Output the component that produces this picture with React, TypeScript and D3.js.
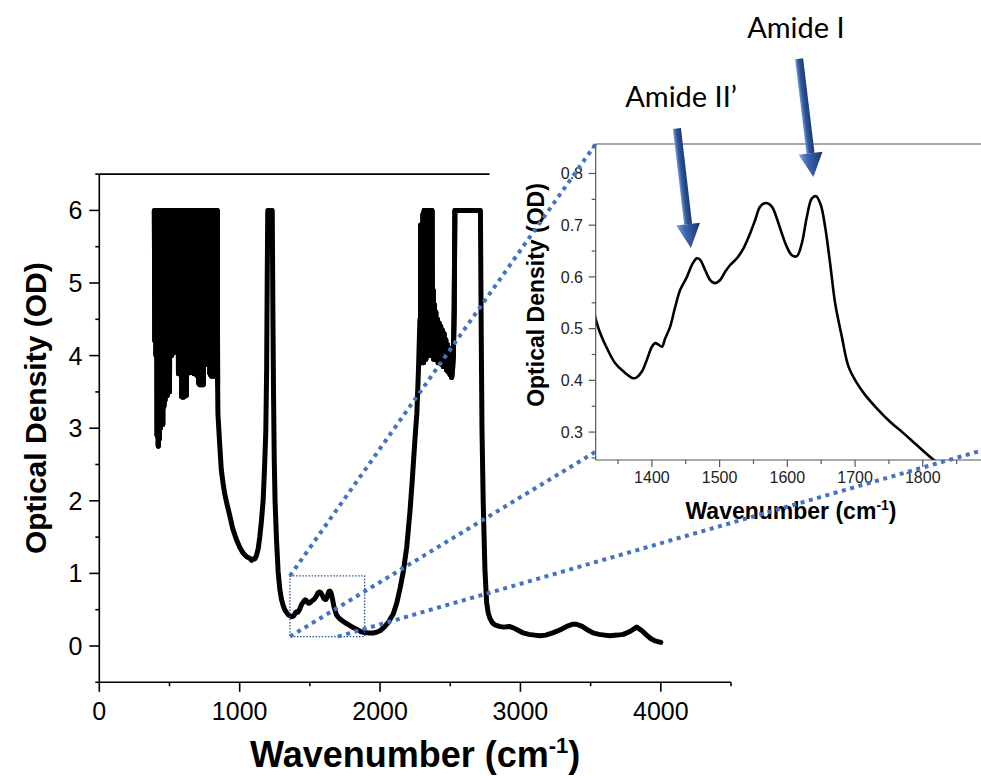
import React from 'react';
import * as d3 from 'd3';

const W = 981;
const H = 776;

// ---- spectrum data: [wavenumber (cm-1), optical density] ----
// saturated, noisy fingerprint region (dense oscillation between 6 and the lower envelope)
const fingerprintBand: [number, number][] = [
  [392, 6], [396, 4.2], [400, 6], [404, 4.0], [408, 6], [412, 2.9], [416, 6], [420, 2.75],
  [424, 6], [428, 2.85], [432, 6], [436, 3.0], [440, 6], [444, 3.05], [448, 6], [452, 3.05],
  [456, 6], [460, 3.3], [464, 6], [468, 3.38], [472, 6], [476, 3.45], [480, 6], [484, 3.45],
  [488, 6], [492, 3.5], [496, 6], [500, 3.5], [504, 6], [508, 4.0], [512, 6], [516, 4.0],
  [520, 6], [524, 4.05], [528, 6], [532, 4.05], [536, 6], [540, 4.05], [544, 6], [548, 4.05],
  [552, 6], [556, 4.4], [560, 6], [564, 3.75], [568, 6], [572, 3.75], [576, 6], [580, 3.75],
  [584, 6], [588, 3.43], [592, 6], [596, 3.43], [600, 6], [604, 3.43], [608, 6], [612, 3.45],
  [616, 6], [620, 3.45], [624, 6], [628, 3.75], [632, 6], [636, 3.77], [640, 6], [644, 3.77],
  [648, 6], [652, 3.77], [656, 6], [660, 3.77], [664, 6], [668, 3.76], [672, 6], [676, 3.75],
  [680, 6], [684, 3.75], [688, 6], [692, 3.74], [696, 6], [700, 3.72], [704, 6], [708, 3.62],
  [712, 6], [716, 3.6], [720, 6], [724, 3.6], [728, 6], [732, 3.6], [736, 6], [740, 3.6],
  [744, 6], [748, 3.88], [752, 6], [756, 3.88], [760, 6], [764, 3.88], [768, 6], [772, 3.88],
  [776, 6], [780, 3.88], [784, 6], [788, 3.75], [792, 6], [796, 3.72], [800, 6], [804, 3.72],
  [808, 6], [812, 3.72], [816, 6], [820, 3.72], [824, 6], [828, 3.72], [832, 6], [836, 3.75],
  [840, 6], [843, 3.6],
];

const valley1100: [number, number][] = [
  [845, 3.2], [857, 2.8], [869, 2.43], [881, 2.25], [893, 2.1], [910, 1.95], [929, 1.8],
  [950, 1.62], [976, 1.47], [1000, 1.36], [1024, 1.28], [1050, 1.23], [1071, 1.21],
  [1085, 1.18], [1095, 1.2], [1107, 1.2], [1119, 1.24], [1132, 1.34], [1143, 1.5],
  [1155, 1.72], [1167, 2.0], [1177, 2.45], [1186, 2.95], [1192, 3.8], [1196, 5.0],
];

const band1200: [number, number][] = [
  [1200, 6], [1206, 5.9], [1212, 6], [1218, 5.9], [1225, 6], [1232, 6], [1237, 4.5], [1241, 3.5],
  [1246, 2.6], [1252, 2.0], [1262, 1.48], [1274, 1.02], [1286, 0.78], [1298, 0.64], [1308, 0.57],
];

const amideRegion: [number, number][] = [
  [1317.3, 0.517], [1323.7, 0.491], [1333.6, 0.462], [1345.8, 0.433], [1358.1, 0.417],
  [1372.8, 0.404], [1377.9, 0.406], [1385.2, 0.417], [1392.6, 0.44], [1400, 0.465],
  [1404.9, 0.472], [1409.8, 0.469], [1414.8, 0.465], [1419.6, 0.481], [1427, 0.504],
  [1434.4, 0.542], [1441.8, 0.575], [1451.7, 0.6], [1459, 0.623], [1466.4, 0.636],
  [1471.3, 0.633], [1478.7, 0.613], [1486, 0.594], [1493.4, 0.588], [1500.8, 0.594],
  [1508.2, 0.61], [1515.6, 0.623], [1525.5, 0.636], [1535.2, 0.655], [1545, 0.684],
  [1552.5, 0.71], [1559.9, 0.736], [1568.7, 0.743], [1577.1, 0.736], [1584.5, 0.713],
  [1591.9, 0.684], [1599.3, 0.658], [1606.6, 0.642], [1614, 0.64], [1621.4, 0.665],
  [1628.8, 0.716], [1636.2, 0.752], [1642.5, 0.756], [1649.4, 0.739], [1655.8, 0.697],
  [1663.2, 0.626], [1670.6, 0.549], [1680.4, 0.485], [1690.2, 0.427], [1702.6, 0.395],
  [1714.8, 0.372], [1732.1, 0.346], [1751.7, 0.32], [1771.4, 0.298], [1791.1, 0.275],
  [1815.7, 0.247],
];

const rise2200: [number, number][] = [
  [1835, 0.23], [1860, 0.2], [1890, 0.185], [1920, 0.18], [1950, 0.18], [1975, 0.19],
  [2000, 0.21], [2030, 0.26], [2060, 0.33], [2094, 0.44], [2120, 0.6], [2143, 0.8],
  [2166, 1.03], [2190, 1.36], [2213, 1.85], [2230, 2.3], [2249, 2.86], [2262, 3.2],
  [2273, 3.77], [2284, 4.5],
];

const band2300: [number, number][] = [
  [2288, 3.9], [2290, 5.8], [2294, 3.9], [2298, 5.0], [2302, 3.95], [2306, 5.95], [2310, 3.9],
  [2314, 6.0], [2318, 4.0], [2322, 5.3], [2326, 3.95], [2330, 6.0], [2334, 4.0], [2338, 5.6],
  [2342, 4.05], [2346, 6.0], [2350, 4.0], [2354, 5.2], [2358, 4.0], [2362, 5.9], [2366, 4.05],
  [2370, 6.0], [2374, 4.0], [2378, 4.9], [2382, 3.95], [2387, 4.7], [2392, 3.95], [2397, 4.6],
  [2402, 3.95], [2408, 4.5], [2414, 3.9], [2420, 4.45], [2426, 3.9], [2432, 4.4], [2438, 3.88],
  [2444, 4.35], [2450, 3.85], [2456, 4.3], [2462, 3.85], [2468, 4.22], [2474, 3.8], [2480, 4.15],
  [2486, 3.78], [2492, 4.1], [2498, 3.74], [2504, 3.95], [2510, 3.7], [2516, 3.8], [2522, 4.0],
  [2528, 4.6], [2533, 6.0], [2715, 6.0], [2720, 4.5], [2726, 3.0], [2735, 1.97], [2747, 1.06],
  [2759, 0.6], [2771, 0.45], [2783, 0.38],
];

const highWnTail: [number, number][] = [
  [2800, 0.32], [2818, 0.29], [2850, 0.27], [2880, 0.26], [2920, 0.27], [2950, 0.25],
  [2980, 0.22], [3020, 0.18], [3060, 0.16], [3100, 0.15], [3140, 0.14], [3180, 0.15],
  [3230, 0.18], [3281, 0.22], [3330, 0.27], [3370, 0.3], [3400, 0.3], [3440, 0.27],
  [3480, 0.22], [3517, 0.18], [3560, 0.16], [3600, 0.15], [3637, 0.14], [3690, 0.15],
  [3733, 0.16], [3780, 0.2], [3828, 0.26], [3860, 0.22], [3899, 0.15], [3930, 0.1],
  [3960, 0.07], [4000, 0.05],
];

const spectrum: [number, number][] = [
  ...fingerprintBand, ...valley1100, ...band1200, ...amideRegion, ...rise2200, ...band2300, ...highWnTail,
];

// ---- axes ----
const mainXDomain = [0, 4500];
const mainYDomain = [-0.5, 6.5];
const mainXTicks = [0, 1000, 2000, 3000, 4000];
const mainXMinor = [500, 1500, 2500, 3500, 4500];
const mainYTicks = [0, 1, 2, 3, 4, 5, 6];
const mainYMinor = [-0.5, 0.5, 1.5, 2.5, 3.5, 4.5, 5.5, 6.5];

const insetXDomain = [1317, 1886];
const insetYDomain = [0.246, 0.857];
const insetXTicks = [1400, 1500, 1600, 1700, 1800];
const insetXMinor = [1350, 1450, 1550, 1650, 1750, 1850];
const insetYTicks = [0.3, 0.4, 0.5, 0.6, 0.7, 0.8];
const insetYMinor = [0.25, 0.35, 0.45, 0.55, 0.65, 0.75, 0.85];

// zoom box on the main chart (data units)
const zoomBox = { x0: 1358, x1: 1890, y0: 0.13, y1: 0.966 };

// annotations in inset data units
const annotations = [
  { label: 'Amide II\u2019', text: [1360.6, 0.928], tail: [1437, 0.887], tip: [1457.6, 0.656] },
  { label: 'Amide I', text: [1540.7, 1.061], tail: [1617.4, 1.022], tip: [1638.5, 0.793] },
];

const ARIAL = '"Liberation Sans", Arial, Helvetica, sans-serif';

function Arrow({ x1, y1, x2, y2, id }: { x1: number; y1: number; x2: number; y2: number; id: string }) {
  const dx = x2 - x1;
  const dy = y2 - y1;
  const L = Math.sqrt(dx * dx + dy * dy);
  const ang = (Math.atan2(dy, dx) * 180) / Math.PI - 90;
  const hw = 4;
  const headW = 12;
  const headL = 24;
  const s = L - headL;
  const shaft = `M${-hw},0 L${hw},0 L${hw},${s} L${-hw},${s} Z`;
  const head = `M${-headW},${s} L${headW},${s} L0,${L} Z`;
  return (
    <g transform={`translate(${x1},${y1}) rotate(${ang})`}>
      <defs>
        <linearGradient id={id} gradientUnits="userSpaceOnUse" x1={-headW} y1={0} x2={headW} y2={0}>
          <stop offset="0%" stopColor="#7fa3e0" />
          <stop offset="35%" stopColor="#3d66b0" />
          <stop offset="65%" stopColor="#2a4f93" />
          <stop offset="100%" stopColor="#1b3568" />
        </linearGradient>
        <linearGradient id={id + 's'} gradientUnits="userSpaceOnUse" x1={-hw} y1={0} x2={hw} y2={0}>
          <stop offset="0%" stopColor="#6f95d6" />
          <stop offset="40%" stopColor="#2f5599" />
          <stop offset="100%" stopColor="#1d3a72" />
        </linearGradient>
      </defs>
      <path d={shaft} fill={`url(#${id}s)`} />
      <path d={head} fill={`url(#${id})`} />
    </g>
  );
}

export default function App() {
  const mx = d3.scaleLinear().domain(mainXDomain).range([99.3, 731]);
  const my = d3.scaleLinear().domain(mainYDomain).range([682.3, 174.1]);
  const ix = d3.scaleLinear().domain(insetXDomain).range([595.7, 981]);
  const iy = d3.scaleLinear().domain(insetYDomain).range([460, 144]);

  const mainLine = d3.line<[number, number]>().x((d) => mx(d[0])).y((d) => my(d[1]));
  const insetLine = d3
    .line<[number, number]>()
    .x((d) => ix(d[0]))
    .y((d) => iy(d[1]))
    .curve(d3.curveCatmullRom.alpha(0.5));

  const insetData = spectrum.filter((d) => d[0] >= 1300 && d[0] <= 1900);

  // noisy saturated parts drawn segment by segment (avoids stroke winding gaps)
  const noisy = [...fingerprintBand, ...band2300.slice(0, 51)];
  const segs: [[number, number], [number, number]][] = [];
  for (const band of [fingerprintBand, band2300.slice(0, 51)]) {
    for (let i = 0; i < band.length - 1; i++) segs.push([band[i], band[i + 1]]);
  }
  void noisy;

  const mxL = mx(mainXDomain[0]);
  const mxR = mx(mainXDomain[1]);
  const myB = my(mainYDomain[0]);
  const myT = my(mainYDomain[1]);

  const ixL = ix(insetXDomain[0]);
  const ixR = ix(insetXDomain[1]);
  const iyB = iy(insetYDomain[0]);
  const iyT = iy(insetYDomain[1]);

  const dashStyle = { stroke: '#4472C4', strokeWidth: 4, strokeDasharray: '4 4.6', fill: 'none' };

  return (
    <svg width={W} height={H} style={{ position: 'absolute', left: 0, top: 0, background: '#fff' }}>
      <defs>
        <clipPath id="insetClip">
          <rect x={ixL} y={iyT} width={ixR - ixL} height={iyB - iyT} />
        </clipPath>
      </defs>

      {/* ---------- main chart ---------- */}
      <path d={mainLine(spectrum) || ''} fill="none" stroke="#000" strokeWidth={5} strokeLinejoin="round" strokeLinecap="round" />
      <g stroke="#000" strokeWidth={5} strokeLinecap="round">
        {segs.map((s, i) => (
          <line key={'seg' + i} x1={mx(s[0][0])} y1={my(s[0][1])} x2={mx(s[1][0])} y2={my(s[1][1])} />
        ))}
      </g>

      {/* axes */}
      <line x1={mxL} y1={myB} x2={mxR} y2={myB} stroke="#000" strokeWidth={1.6} />
      <line x1={mxL} y1={myB} x2={mxL} y2={myT} stroke="#000" strokeWidth={1.6} />
      <line x1={mxL} y1={myT} x2={mx(2780)} y2={myT} stroke="#000" strokeWidth={1.6} />
      {mainXTicks.map((t) => (
        <g key={'mx' + t}>
          <line x1={mx(t)} x2={mx(t)} y1={myB} y2={myB + 9.5} stroke="#000" strokeWidth={1.6} />
          <text x={mx(t)} y={720} textAnchor="middle" fontFamily={ARIAL} fontSize={25} fill="#000">
            {t}
          </text>
        </g>
      ))}
      {mainXMinor.map((t) => (
        <line key={'mxm' + t} x1={mx(t)} x2={mx(t)} y1={myB} y2={myB + 4} stroke="#000" strokeWidth={1.6} />
      ))}
      {mainYTicks.map((t) => (
        <g key={'my' + t}>
          <line x1={mxL - 10} x2={mxL} y1={my(t)} y2={my(t)} stroke="#000" strokeWidth={1.6} />
          <text x={82.5} y={my(t) + 9} textAnchor="end" fontFamily={ARIAL} fontSize={25} fill="#000">
            {t}
          </text>
        </g>
      ))}
      {mainYMinor.map((t) => (
        <line key={'mym' + t} x1={mxL - 4} x2={mxL} y1={my(t)} y2={my(t)} stroke="#000" strokeWidth={1.6} />
      ))}

      <text
        transform={`translate(46,${(myT + myB) / 2 - 20}) rotate(-90)`}
        textAnchor="middle"
        fontFamily={ARIAL}
        fontWeight="bold"
        fontSize={30}
        fill="#000"
      >
        Optical Density (OD)
      </text>
      <text x={(mxL + mxR) / 2} y={767} textAnchor="middle" fontFamily={ARIAL} fontWeight="bold" fontSize={36} fill="#000">
        Wavenumber (cm
        <tspan fontSize={22} dy={-14}>-1</tspan>
        <tspan dy={14}>)</tspan>
      </text>

      {/* zoom box */}
      <rect
        x={mx(zoomBox.x0)}
        y={my(zoomBox.y1)}
        width={mx(zoomBox.x1) - mx(zoomBox.x0)}
        height={my(zoomBox.y0) - my(zoomBox.y1)}
        fill="none"
        stroke="#2F5597"
        strokeWidth={1.3}
        strokeDasharray="1.5 1.6"
      />

      {/* ---------- inset ---------- */}
      <path d={insetLine(insetData) || ''} fill="none" stroke="#000" strokeWidth={2.6} strokeLinejoin="round" clipPath="url(#insetClip)" />
      <line x1={ixL} y1={iyB} x2={ixR} y2={iyB} stroke="#555" strokeWidth={1.2} />
      <line x1={ixL} y1={iyB} x2={ixL} y2={iyT} stroke="#555" strokeWidth={1.2} />
      <line x1={ixL} y1={iyT} x2={ixR} y2={iyT} stroke="#555" strokeWidth={1.2} />
      {insetXTicks.map((t) => (
        <g key={'ix' + t}>
          <line x1={ix(t)} x2={ix(t)} y1={iyB} y2={iyB + 7} stroke="#555" strokeWidth={1.2} />
          <text x={ix(t)} y={483} textAnchor="middle" fontFamily={ARIAL} fontSize={16} fill="#222">
            {t}
          </text>
        </g>
      ))}
      {insetXMinor.map((t) => (
        <line key={'ixm' + t} x1={ix(t)} x2={ix(t)} y1={iyB} y2={iyB + 4} stroke="#555" strokeWidth={1.2} />
      ))}
      {insetYTicks.map((t) => (
        <g key={'iy' + t}>
          <line x1={ixL - 7} x2={ixL} y1={iy(t)} y2={iy(t)} stroke="#555" strokeWidth={1.2} />
          <text x={583} y={iy(t) + 5.8} textAnchor="end" fontFamily={ARIAL} fontSize={16} fill="#222">
            {t.toFixed(1)}
          </text>
        </g>
      ))}
      {insetYMinor.map((t) => (
        <line key={'iym' + t} x1={ixL - 4} x2={ixL} y1={iy(t)} y2={iy(t)} stroke="#555" strokeWidth={1.2} />
      ))}
      <text
        transform={`translate(543.5,295) rotate(-90)`}
        textAnchor="middle"
        fontFamily={ARIAL}
        fontWeight="bold"
        fontSize={23}
        fill="#000"
      >
        Optical Density (OD)
      </text>
      <text x={791} y={519} textAnchor="middle" fontFamily={ARIAL} fontWeight="bold" fontSize={23} fill="#000">
        Wavenumber (cm
        <tspan fontSize={14} dy={-9}>-1</tspan>
        <tspan dy={9}>)</tspan>
      </text>

      {/* connector lines */}
      <line x1={mx(zoomBox.x0)} y1={my(zoomBox.y1)} x2={ix(insetXDomain[0])} y2={iy(insetYDomain[1])} style={dashStyle} />
      <line x1={mx(zoomBox.x0)} y1={my(zoomBox.y0)} x2={ix(insetXDomain[0])} y2={iy(0.262)} style={dashStyle} />
      <line x1={mx(1700)} y1={my(zoomBox.y0)} x2={ix(insetXDomain[1])} y2={iy(0.264)} style={dashStyle} />

      {/* annotations */}
      {annotations.map((a, i) => (
        <g key={a.label}>
          <Arrow id={'arrowGrad' + i} x1={ix(a.tail[0])} y1={iy(a.tail[1])} x2={ix(a.tip[0])} y2={iy(a.tip[1])} />
          <text x={ix(a.text[0])} y={iy(a.text[1])} fontFamily="Lato, 'Noto Sans', sans-serif" fontSize={29} fill="#000">
            {a.label}
          </text>
        </g>
      ))}
    </svg>
  );
}
